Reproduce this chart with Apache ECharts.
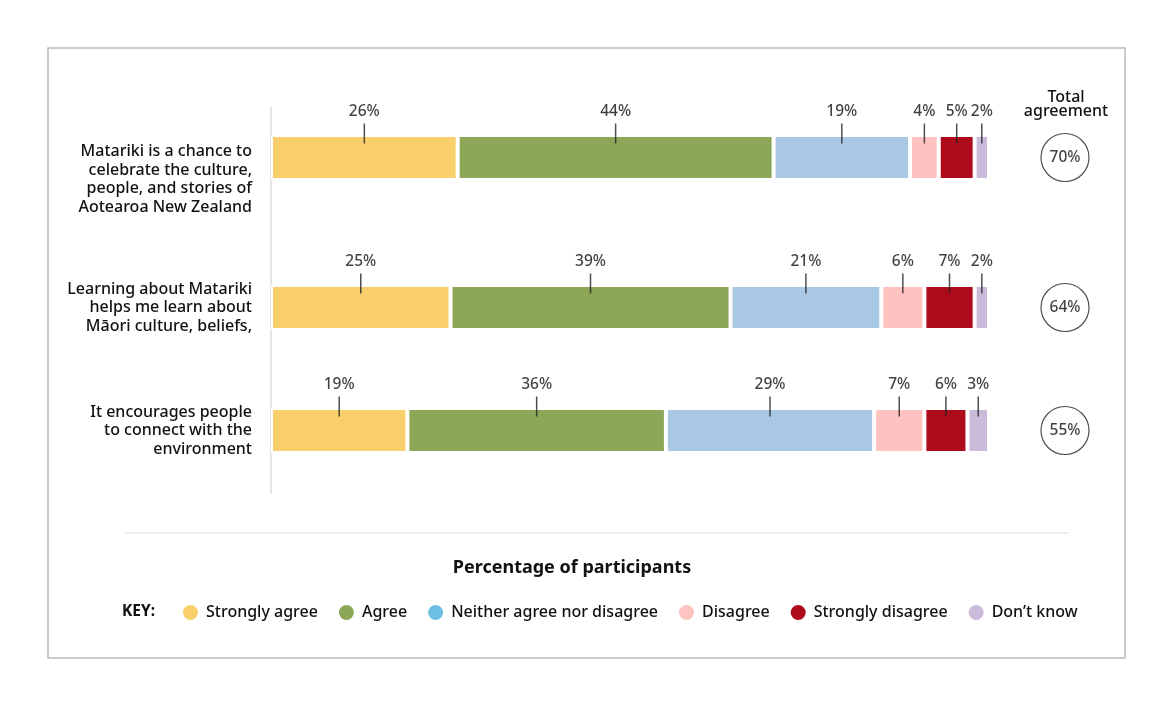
<!DOCTYPE html>
<html>
<head>
<meta charset="utf-8">
<script src="https://cdn.jsdelivr.net/npm/echarts@6/dist/echarts.min.js"></script>
<style>
  html, body { margin: 0; padding: 0; background: #fff; }
  #chart { width: 1173px; height: 707px; }
</style>
</head>
<body>
<div id="chart"></div>
<script>
var categories = [
  'Matariki is a chance to\ncelebrate the culture,\npeople, and stories of\nAotearoa New Zealand',
  'Learning about Matariki\nhelps me learn about\nMāori culture, beliefs,',
  'It encourages people\nto connect with the\nenvironment'
];
var seriesNames = ['Strongly agree', 'Agree', 'Neither agree nor disagree', 'Disagree', 'Strongly disagree', 'Don’t know'];
var stronglyAgree = [26, 25, 19];
var agree = [44, 39, 36];
var neither = [19, 21, 29];
var disagree = [4, 6, 7];
var stronglyDisagree = [5, 7, 6];
var dontKnow = [2, 2, 3];

var allValues = [stronglyAgree, agree, neither, disagree, stronglyDisagree, dontKnow];
var barColors = ['#f9cf6b', '#8ca758', '#a8c8e4', '#fec2c1', '#ad0b1c', '#cbbbdb'];
var legendColors = ['#f9cf6b', '#8ca758', '#6cbfe3', '#fec2c1', '#ad0b1c', '#cbbbdb'];

var fontFam = 'Noto Sans';
var fontW = 500;
var rowTops = [135, 285, 408];
var rowH = 45;
// first label block sits lower than its bar: an empty spacer line pushes it down
var spacer = [44, 0, 0];

var grids = [], xAxes = [], yAxes = [], series = [];

function makeLabelFormatter(sp) {
  return function (value) {
    var txt = value.split('\n').map(function (l) { return '{n|' + l + '}'; }).join('\n');
    return sp ? '{s| }\n' + txt : txt;
  };
}

for (var r = 0; r < categories.length; r++) {
  // bar grid
  grids.push({ left: 271, right: 184, top: rowTops[r], height: rowH });
  xAxes.push({ type: 'value', gridIndex: grids.length - 1, min: 0, max: 100, show: false });
  yAxes.push({
    type: 'category', gridIndex: grids.length - 1, data: [categories[r]],
    axisLine: { show: false }, axisTick: { show: false },
    axisLabel: {
      margin: 19, align: 'right',
      formatter: makeLabelFormatter(spacer[r]),
      rich: {
        s: { fontSize: 10, lineHeight: spacer[r] || 1 },
        n: { fontFamily: fontFam, fontSize: 16, fontWeight: fontW, color: '#111',
             lineHeight: 18.5, align: 'right' }
      }
    }
  });
  var gi = grids.length - 1;

  var cum = 0, ticks = [];
  for (var s = 0; s < seriesNames.length; s++) {
    var v = allValues[s][r];
    series.push({
      name: seriesNames[s], type: 'bar', stack: 'row' + r,
      xAxisIndex: gi, yAxisIndex: gi,
      barWidth: rowH, data: [v],
      itemStyle: { color: barColors[s], borderColor: '#fff', borderWidth: 2 },
      silent: true, animation: false
    });
    ticks.push({ value: [cum + v / 2, 0], pct: v });
    cum += v;
  }

  // tick marks + percentage labels
  series.push({
    type: 'scatter', xAxisIndex: gi, yAxisIndex: gi,
    symbol: 'rect', symbolSize: [1.5, 20], symbolOffset: [0, -24],
    itemStyle: { color: '#222' },
    label: {
      show: true, position: 'top', distance: 4,
      fontFamily: fontFam, fontSize: 15.5, fontWeight: fontW, color: '#111',
      formatter: function (p) { return p.data.pct + '%'; }
    },
    data: ticks, silent: true, animation: false, z: 5
  });

  // total agreement circle
  grids.push({ left: 1041, width: 48, top: rowTops[r], height: rowH });
  xAxes.push({ type: 'category', gridIndex: grids.length - 1, data: ['total'], show: false });
  yAxes.push({ type: 'category', gridIndex: grids.length - 1, data: ['total'], show: false });
  series.push({
    type: 'scatter', xAxisIndex: grids.length - 1, yAxisIndex: grids.length - 1,
    symbol: 'circle', symbolSize: 48,
    itemStyle: { color: '#fff', borderColor: '#222', borderWidth: 1.2 },
    label: {
      show: true, position: 'inside', fontFamily: fontFam, fontSize: 15.5, fontWeight: fontW, color: '#111',
      formatter: function (p) { return p.data.total + '%'; }
    },
    data: [{ value: [0, 0], total: stronglyAgree[r] + agree[r] }],
    silent: true, animation: false
  });
}

var legendData = seriesNames.map(function (n, i) {
  return { name: n, itemStyle: { color: legendColors[i] } };
});

var option = {
  backgroundColor: '#fff',
  animation: false,
  title: {
    text: 'Percentage of participants',
    left: 567, top: 554, textAlign: 'center',
    textStyle: { fontFamily: fontFam, fontSize: 18, fontWeight: 'bold', color: '#111' }
  },
  legend: {
    data: legendData,
    left: 181, top: 603, padding: 0,
    icon: 'circle', itemWidth: 17, itemHeight: 17, itemGap: 19,
    selectedMode: false,
    textStyle: { fontFamily: fontFam, fontSize: 16, fontWeight: fontW, color: '#111', padding: [0, 0, 0, 2] }
  },
  grid: grids,
  xAxis: xAxes,
  yAxis: yAxes,
  series: series,
  graphic: [
    { type: 'rect', shape: { x: 48, y: 48, width: 1077, height: 610 },
      style: { fill: 'none', stroke: '#bbb', lineWidth: 1.5 }, silent: true },
    { type: 'line', shape: { x1: 271, y1: 107, x2: 271, y2: 494 },
      style: { stroke: '#ddd', lineWidth: 1.5 }, silent: true },
    { type: 'line', shape: { x1: 125, y1: 533, x2: 1069, y2: 533 },
      style: { stroke: '#ddd', lineWidth: 1.2 }, silent: true },
    { type: 'text', x: 1066, y: 90,
      style: { text: 'Total\nagreement', fontFamily: fontFam, fontSize: 16, fontWeight: fontW, fill: '#111',
               textAlign: 'center', lineHeight: 14 }, silent: true },
    { type: 'text', x: 122, y: 604,
      style: { text: 'KEY:', fontFamily: fontFam, fontSize: 15.5, fontWeight: 'bold', fill: '#111' }, silent: true }
  ]
};

var chart = echarts.init(document.getElementById('chart'));
chart.setOption(option);

window.addEventListener('resize', function () {
  chart.resize();
});
</script>
</body>
</html>
